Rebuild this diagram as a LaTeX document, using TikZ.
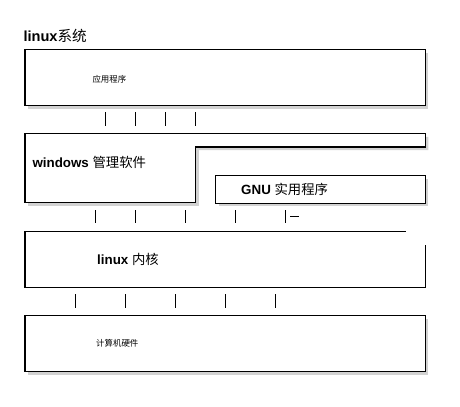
\documentclass[tikz,border=0pt]{standalone}
\usepackage{fontspec}
\setmainfont{Liberation Sans}
\newfontfamily\cjk{Noto Sans CJK SC}
\usetikzlibrary{shadows}
\tikzstyle{layershadow}=[drop shadow={opacity=.35, shadow xshift=1.8pt, shadow yshift=-1.8pt}]
\tikzstyle{layer}=[draw, fill=white, line width=.6pt, layershadow]
\tikzstyle{bigtext}=[anchor=west, inner sep=0pt, font=\fontsize{7.6}{9}\selectfont]
\tikzstyle{smalltext}=[anchor=west, inner sep=0pt, font=\fontsize{4.8}{6}\selectfont]

\begin{document}
\begin{tikzpicture}[x=.02cm, y=-.02cm, line width=.6pt]
	\useasboundingbox (0,0) rectangle (460,406);
	\fill[white] (0,0) rectangle (460,406);
	\node[bigtext, font=\fontsize{8.3}{10}\selectfont] (title) at (23,36) {\bfseries linux\cjk\mdseries 系统};
	% application layer
	\path[layer] (25,49.7) rectangle (425.3,105.7);
	\node[smalltext] (apps) at (92,79) {\cjk 应用程序};
	\foreach \x in {105.7,135.3,165.7,195.7}
		\draw (\x,112) -- (\x,125.7);
	% windows and GNU layer
	\path[layer] (25,133.7) -- (425.3,133.7) -- (425.3,147) -- (195.7,147)
		-- (195.7,202.7) -- (25,202.7) -- cycle;
	\node[bigtext] (windows) at (32,162.5) {\bfseries windows \cjk\mdseries 管理软件};
	\path[layer] (215.7,175.7) rectangle (425.3,203.3);
	\node[bigtext] (gnu) at (240.7,189) {\bfseries GNU \cjk\mdseries 实用程序};
	\foreach \x in {95.7,135.3,185.7,235.7,285.7}
		\draw (\x,210) -- (\x,223.3);
	\draw (290,216.7) -- (299.3,216.7);
	% kernel
	\draw (405.7,231.7) -- (25,231.7) -- (25,287.3) -- (425.3,287.3) -- (425.3,245);
	\node[bigtext] (kernel) at (96.7,259.3) {\bfseries linux \cjk\mdseries 内核};
	\foreach \x in {75.7,125.7,175.7,225.7,275.7}
		\draw (\x,294.3) -- (\x,307.7);
	% hardware
	\path[layer] (25,315.7) rectangle (425.3,371.7);
	\node[smalltext] (hardware) at (95.7,343.3) {\cjk 计算机硬件};
\end{tikzpicture}
\end{document}
